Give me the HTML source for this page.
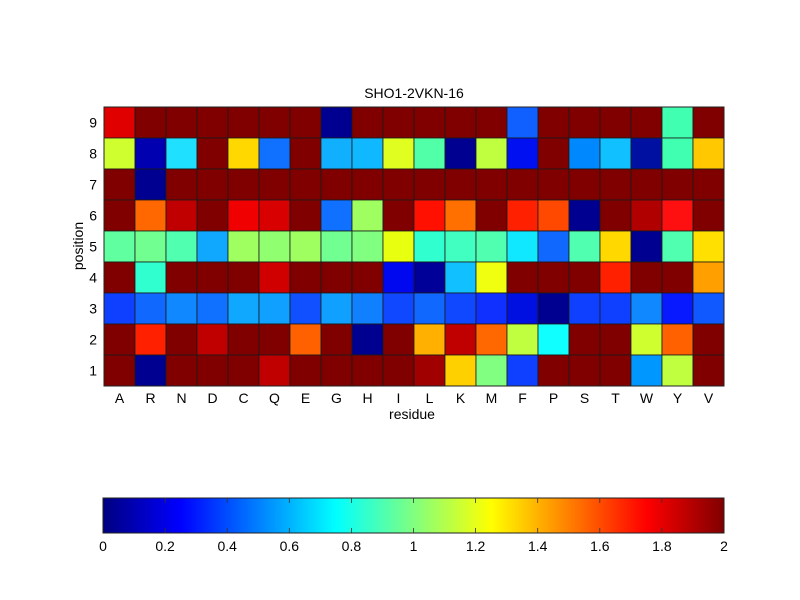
<!DOCTYPE html>
<html><head><meta charset="utf-8"><style>
html,body{margin:0;padding:0;background:#fff;}
svg{display:block;font-family:"Liberation Sans",sans-serif;}
</style></head><body>
<svg id="s" width="800" height="600" viewBox="0 0 800 600" xmlns="http://www.w3.org/2000/svg">
<defs>
<linearGradient id="jet" x1="0" x2="1" y1="0" y2="0">
<stop offset="0" stop-color="#000080"/>
<stop offset="0.125" stop-color="#0000ff"/>
<stop offset="0.375" stop-color="#00ffff"/>
<stop offset="0.625" stop-color="#ffff00"/>
<stop offset="0.875" stop-color="#ff0000"/>
<stop offset="1" stop-color="#800000"/>
</linearGradient>
</defs>
<rect width="800" height="600" fill="#fff"/>
<g id="cells"></g>
<rect x="104" y="107" width="620" height="279" fill="none" stroke="#222" stroke-width="1"/>
<text x="414" y="98" font-size="14" text-anchor="middle">SHO1-2VKN-16</text>
<text transform="translate(83,246) rotate(-90)" font-size="14" text-anchor="middle">position</text>
<text x="412" y="419" font-size="14" text-anchor="middle">residue</text>
<g id="lab" font-size="14"></g>
<rect x="103" y="498" width="621" height="35" fill="url(#jet)" stroke="#222" stroke-width="1"/>
<g id="cb" font-size="14"></g>
</svg>
<script>
var D='#800000';
var rows=[
['#e00000',D,D,D,D,D,D,'#000090',D,D,D,D,D,'#1060ff',D,D,D,D,'#40ffb0',D],
['#d0ff30','#0000b0','#20e0ff',D,'#ffd800','#1070ff',D,'#10b0ff','#10b8ff','#e0ff20','#50ffa8','#000090','#c0ff40','#0010f0',D,'#0088ff','#10c0ff','#0010a0','#40ffb0','#ffc800'],
[D,'#000090',D,D,D,D,D,D,D,D,D,D,D,D,D,D,D,D,D,D],
[D,'#ff6800','#c00000',D,'#f00000','#d80000',D,'#1070ff','#a0ff60',D,'#ff1000','#ff7000',D,'#ff2000','#ff4800','#000090',D,'#b00000','#ff1010',D],
['#60ffa0','#70ff90','#50ffb0','#10a8ff','#a0ff60','#90ff70','#a0ff60','#70ff90','#80ff80','#e8ff10','#30ffd0','#40ffc0','#50ffb0','#10e8ff','#1068ff','#50ffb0','#ffd800','#000090','#50ffb0','#ffe000'],
[D,'#30ffd0',D,D,D,'#d00000',D,D,D,'#0008f0','#000098','#10c0ff','#f0ff10',D,D,D,'#ff2000',D,D,'#ffa000'],
['#1040ff','#1068ff','#1088ff','#1070ff','#10a8ff','#10a0ff','#1050ff','#10a0ff','#1080ff','#1048ff','#1068ff','#1048ff','#1030ff','#0010e0','#000090','#1040ff','#1040ff','#1088ff','#0818ff','#1058ff'],
[D,'#ff2000',D,'#c00000',D,D,'#ff6000',D,'#000090',D,'#ffb000','#c00000','#ff6800','#c0ff40','#10ffff',D,D,'#d0ff30','#ff6000',D],
[D,'#000090',D,D,D,'#c00000',D,D,D,D,'#a00000','#ffd000','#80ff80','#1040ff',D,D,D,'#0098ff','#c0ff40',D]
];
var ns='http://www.w3.org/2000/svg';
function el(t,a,p,txt){var e=document.createElementNS(ns,t);for(var k in a)e.setAttribute(k,a[k]);if(txt!==undefined)e.textContent=txt;p.appendChild(e);return e;}
var g=document.getElementById('cells'),lab=document.getElementById('lab'),cb=document.getElementById('cb');
var x0=104,y0=107,cw=31,ch=31;
for(var r=0;r<9;r++)for(var c=0;c<20;c++){
 el('rect',{x:x0+c*cw,y:y0+r*ch,width:cw,height:ch,fill:rows[r][c],stroke:'#1a1a1a','stroke-width':0.8},g);
}
var res='ARNDCQEGHILKMFPSTWYV'.split('');
for(var c=0;c<20;c++)el('text',{x:x0+c*cw+cw/2,y:403,'text-anchor':'middle'},lab,res[c]);
for(var r=0;r<9;r++)el('text',{x:97,y:y0+r*ch+ch/2+5,'text-anchor':'end'},lab,String(9-r));
var t=['0','0.2','0.4','0.6','0.8','1','1.2','1.4','1.6','1.8','2'];
for(var i=0;i<11;i++){var x=103+i*62.1;
 el('text',{x:x,y:551,'text-anchor':'middle'},cb,t[i]);
 if(i>0&&i<10){el('line',{x1:x,x2:x,y1:498,y2:503,stroke:'#333','stroke-width':0.8},cb);el('line',{x1:x,x2:x,y1:528,y2:533,stroke:'#333','stroke-width':0.8},cb);}
}
</script>
</body></html>
